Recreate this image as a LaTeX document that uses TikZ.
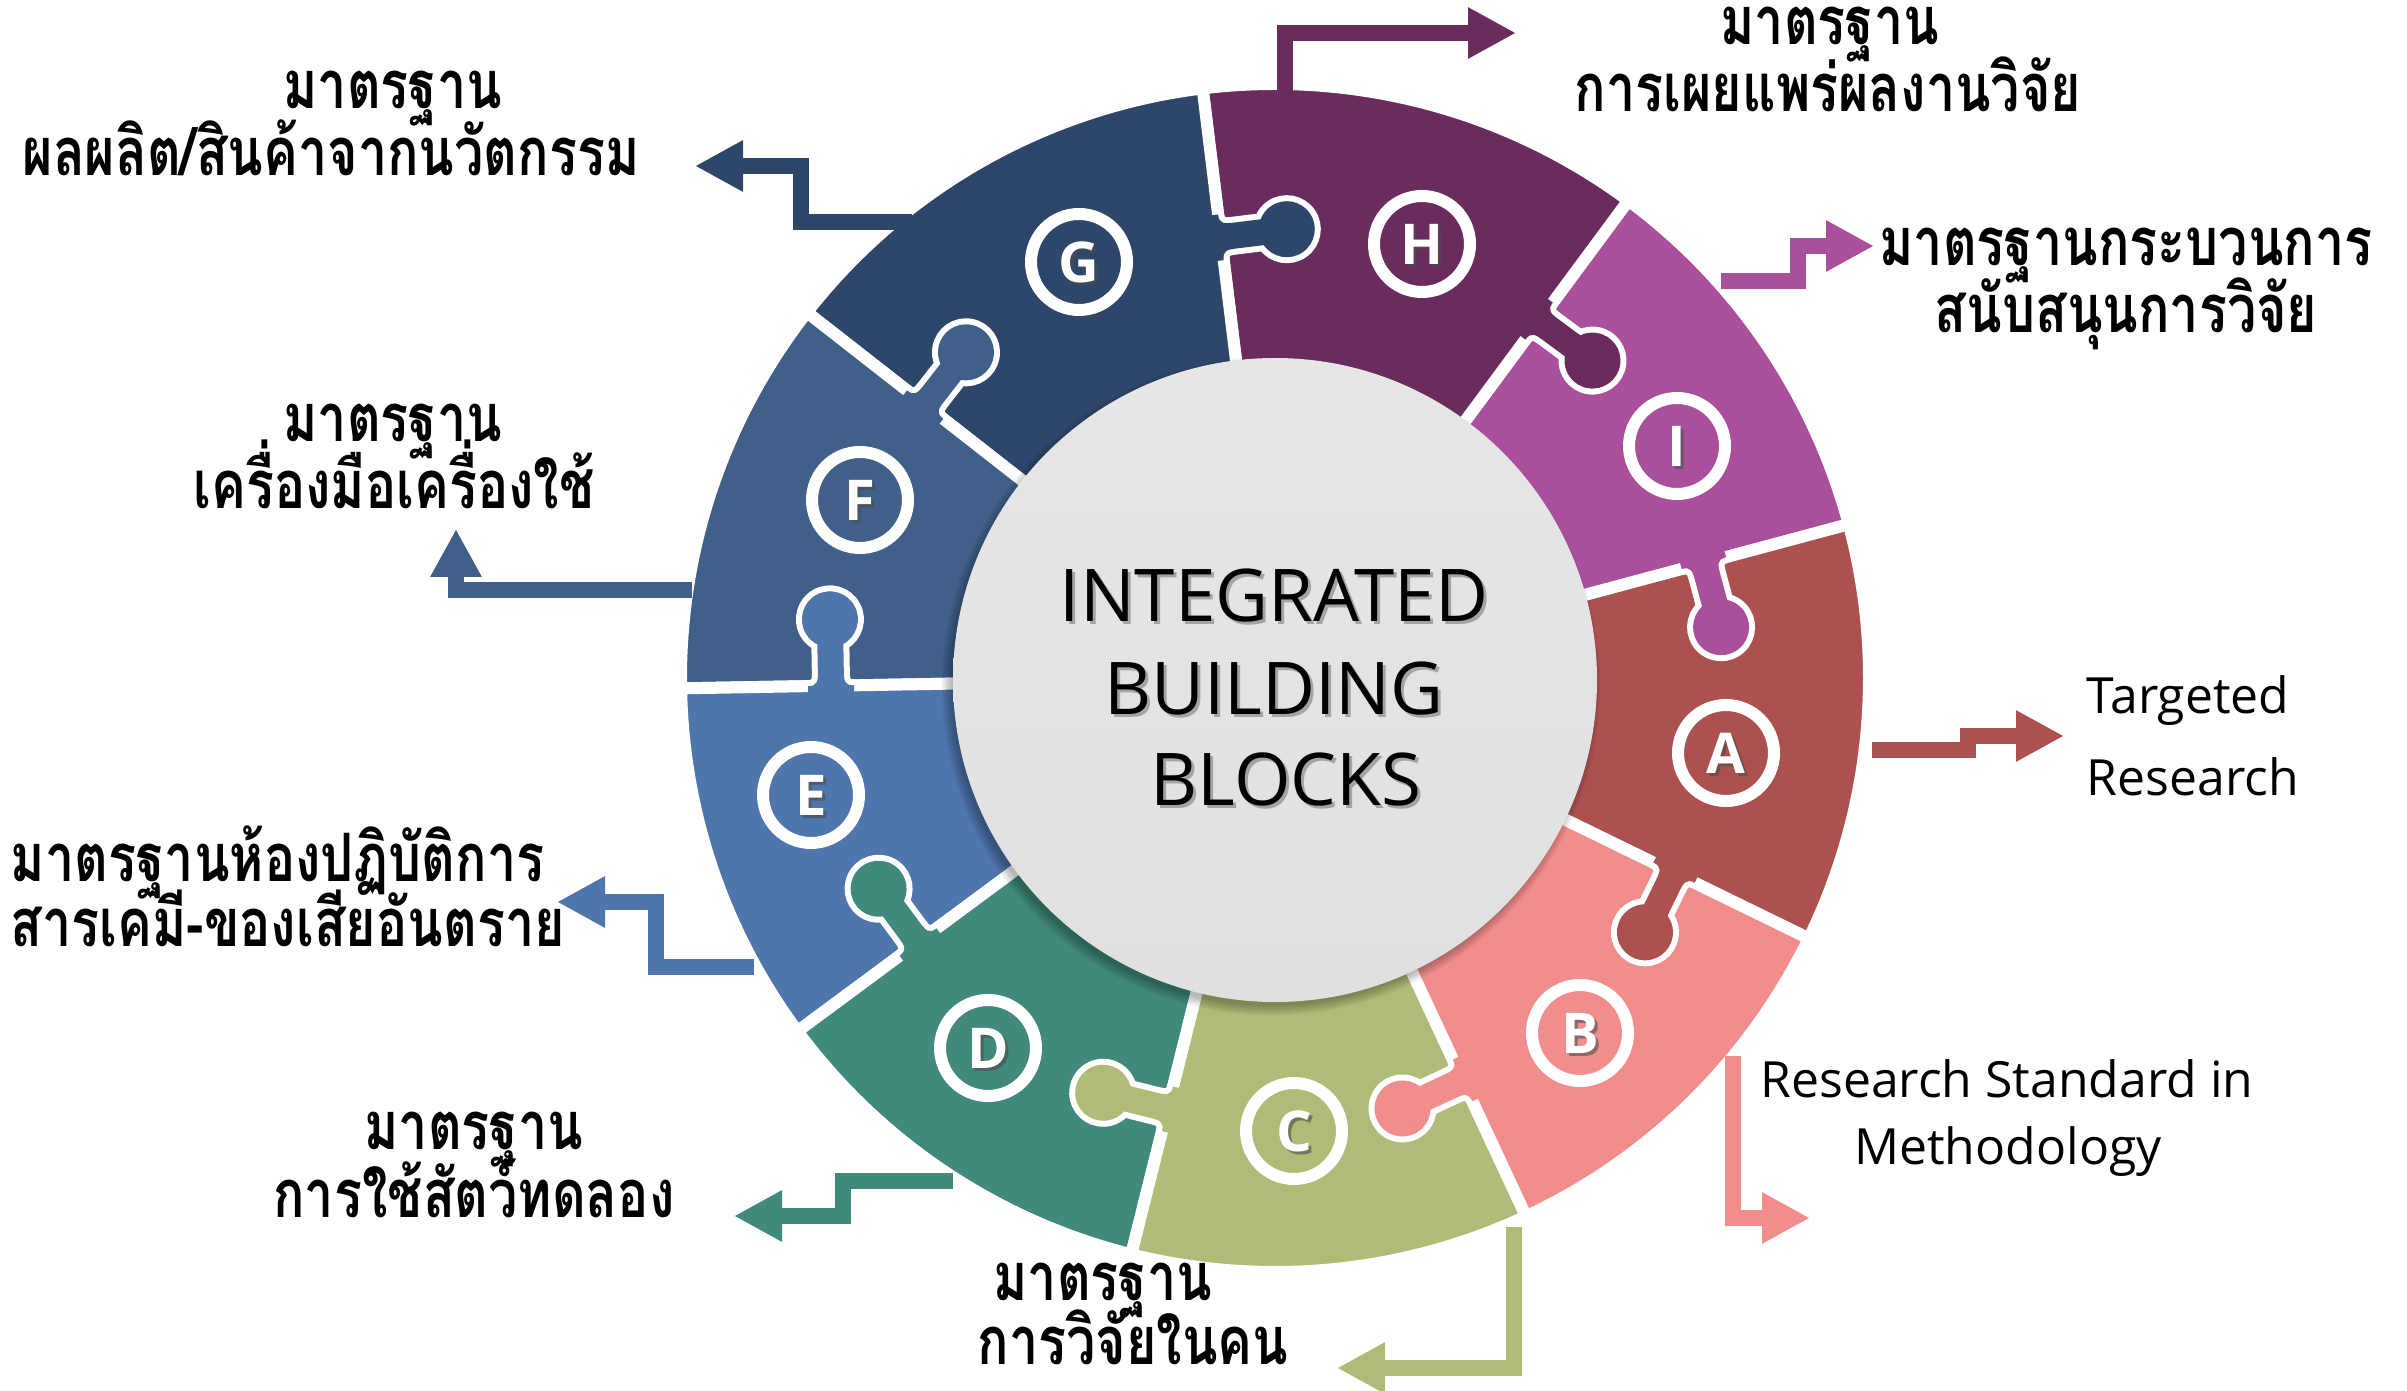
\documentclass[tikz,border=0pt]{standalone}
\usepackage{fontspec}
\setmainfont{Open Sans}
\newfontfamily\thai[Script=Thai,FakeStretch=0.78]{Loma}
\usetikzlibrary{arrows.meta}
\definecolor{cA}{HTML}{AC5150}
\definecolor{cB}{HTML}{F18D8C}
\definecolor{cC}{HTML}{AFBB76}
\definecolor{cD}{HTML}{418A7B}
\definecolor{cE}{HTML}{4E75AC}
\definecolor{cF}{HTML}{405F89}
\definecolor{cG}{HTML}{2E4669}
\definecolor{cH}{HTML}{6A2C5C}
\definecolor{cI}{HTML}{AA4F9C}
\definecolor{discTop}{HTML}{E6E6E6}
\definecolor{discMid}{HTML}{C8C8C8}
\definecolor{discBot}{HTML}{E0E0E0}
\tikzset{
  piece/.style={fill=#1, draw=white, line width=1.2mm, line join=round},
  conn/.style={draw=#1, line width=1.6mm, line join=miter, -{Triangle[length=4.8mm,width=4.8mm]}},
  thtxt/.style={inner sep=0pt, font=\thai\bfseries\fontsize{19}{19}\selectfont, anchor=base},
  latxt/.style={inner sep=0pt, font=\fontsize{14.2}{14.2}\selectfont, anchor=base},
  badge/.style={circle, draw=white, line width=1.2mm, minimum size=9.6mm, inner sep=0pt,
    text=white, font=\bfseries\fontsize{16}{16}\selectfont},
  badgeshadow/.style={inner sep=0pt, text=black!70, opacity=0.6, font=\bfseries\fontsize{16}{16}\selectfont},
  ctxt/.style={inner sep=0pt, font=\fontsize{20.7}{20.7}\selectfont, anchor=base},
  ctxtshadow/.style={inner sep=0pt, font=\fontsize{20.7}{20.7}\selectfont, anchor=base, text=black!60, opacity=0.5}
}
\begin{document}
\begin{tikzpicture}[x=0.1mm,y=-0.1mm]
\useasboundingbox (0,0) rectangle (2407,1391);

% ---------------- ring of puzzle pieces ----------------
\begin{scope}[shift={(1275,678)}, y=0.1mm]
  \foreach \s/\e/\c in {15/53.5/cI, 53.5/97/cH, 97/142/cG, 142/181/cF, 181/216.5/cE,
                        216.5/256/cD, 256/295/cC, 295/334/cB, 334/375/cA}{
    \path[piece=\c] (\s:290) -- (\s:594) arc[start angle=\s, end angle=\e, radius=594]
       -- (\e:290) arc[start angle=\e, end angle=\s, radius=290] -- cycle;
  }
  % knobs: each piece reaches into its clockwise neighbour
  \foreach \s/\c in {15/cI, 53.5/cH, 97/cG, 142/cF, 181/cE, 216.5/cD, 256/cC, 295/cB, 334/cA}{
    \begin{scope}[rotate=\s]
      \draw[white, line width=1.2mm] (421,0) .. controls (431,0) and (431,-5) .. (431,-16)
         -- (431,-41.6) arc[start angle=117.7, end angle=422.3, radius=28]
         -- (457,-16) .. controls (457,-5) and (457,0) .. (467,0);
      \fill[\c] (421,9) -- (421,0) .. controls (431,0) and (431,-5) .. (431,-16)
         -- (431,-41.6) arc[start angle=117.7, end angle=422.3, radius=28]
         -- (457,-16) .. controls (457,-5) and (457,0) .. (467,0) -- (467,9) -- cycle;
    \end{scope}
  }
\end{scope}

% ---------------- central disc ----------------
\foreach \i in {1,...,7}{
  \fill[black, opacity=0.045] (1271,686) circle[radius={318+\i*1.6}];
}
\shade[top color=discTop, middle color=discMid, bottom color=discBot] (1275,680) circle[radius=322];
\node[ctxtshadow] at (1277,625) {INTEGRATED};
\node[ctxtshadow] at (1277,718) {BUILDING};
\node[ctxtshadow] at (1289,809) {BLOCKS};
\node[ctxt] (t1) at (1274,622) {INTEGRATED};
\node[ctxt] (t2) at (1274,715) {BUILDING};
\node[ctxt] (t3) at (1286,806) {BLOCKS};

% ---------------- letter badges ----------------
\foreach \n/\x/\y in {G/1079/262, H/1422/244, I/1677/446, A/1726/753, B/1580/1033,
                      C/1294/1131, D/988/1048, E/811/795, F/860/500}{
  \node[badgeshadow] at (\x+3,\y+3) {\n};
  \node[badge] (b\n) at (\x,\y) {\n};
}

% ---------------- connectors ----------------
\coordinate (hs) at (1285,93);   \coordinate (ht) at (1516,33);
\coordinate (is) at (1721,281);  \coordinate (im) at (1798,246);  \coordinate (it) at (1874,246);
\coordinate (as) at (1872,750);  \coordinate (am) at (1968,736);  \coordinate (at) at (2064,736);
\coordinate (bs) at (1733,1056); \coordinate (bt) at (1810,1218);
\coordinate (cs) at (1514,1227); \coordinate (ct) at (1337,1368);
\coordinate (ds) at (953,1181);  \coordinate (dm) at (843,1216);  \coordinate (dt) at (734,1216);
\coordinate (es) at (754,967);   \coordinate (em) at (656,902);   \coordinate (et) at (557,902);
\coordinate (fs) at (692,590);   \coordinate (ft) at (456,529);
\coordinate (gs) at (912,222);   \coordinate (gm) at (801,166);   \coordinate (gt) at (695,166);

\draw[conn=cH] (hs) |- (ht);
\draw[conn=cI] (is) -| (im) -- (it);
\draw[conn=cA] (as) -| (am) -- (at);
\draw[conn=cB] (bs) |- (bt);
\draw[conn=cC] (cs) |- (ct);
\draw[conn=cD] (ds) -| (dm) -- (dt);
\draw[conn=cE] (es) -| (em) -- (et);
\draw[conn=cF] (fs) -| (ft);
\draw[conn=cG] (gs) -| (gm) -- (gt);

% ---------------- labels ----------------
\node[thtxt] (lg1) at (393,109) {มาตรฐาน};
\node[thtxt] (lg2) at (331,176) {ผลผลิต/สินค้าจากนวัตกรรม};
\node[thtxt] (lf1) at (393,442) {มาตรฐาน};
\node[thtxt] (lf2) at (394,509) {เครื่องมือเครื่องใช้};
\node[thtxt] (lh1) at (1830,45) {มาตรฐาน};
\node[thtxt] (lh2) at (1828,112) {การเผยแพร่ผลงานวิจัย};
\node[thtxt] (li1) at (2126,266) {มาตรฐานกระบวนการ};
\node[thtxt] (li2) at (2126,333) {สนับสนุนการวิจัย};
\node[thtxt, anchor=base west] (le1) at (10,882) {มาตรฐานห้องปฏิบัติการ};
\node[thtxt, anchor=base west] (le2) at (10,947) {สารเคมี-ของเสียอันตราย};
\node[thtxt] (ld1) at (474,1150) {มาตรฐาน};
\node[thtxt] (ld2) at (474,1217) {การใช้สัตว์ทดลอง};
\node[thtxt] (lc1) at (1103,1301) {มาตรฐาน};
\node[thtxt] (lc2) at (1133,1364) {การวิจัยในคน};
\node[latxt, anchor=base west] (la1) at (2086,714) {Targeted};
\node[latxt, anchor=base west] (la2) at (2086,796) {Research};
\node[latxt] (lb1) at (2007,1098) {Research Standard in};
\node[latxt] (lb2) at (2008,1165) {Methodology};
\end{tikzpicture}
\end{document}
